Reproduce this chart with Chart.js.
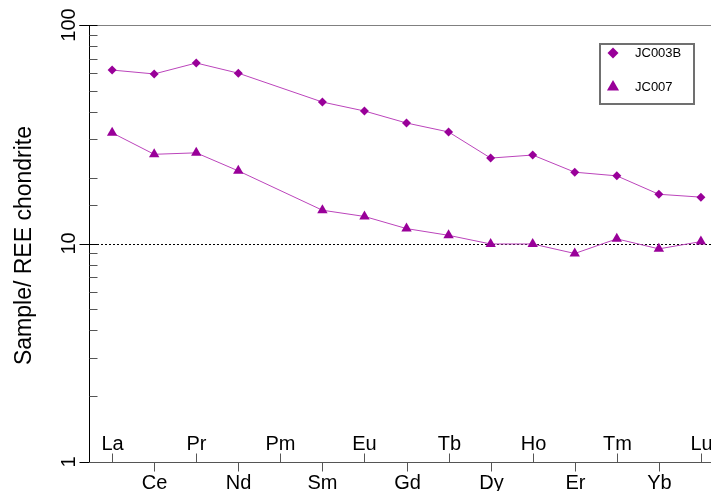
<!DOCTYPE html>
<html>
<head>
<meta charset="utf-8">
<title>REE chondrite plot</title>
<script src="https://cdn.jsdelivr.net/npm/chart.js@4.4.0/dist/chart.umd.min.js"></script>
<style>
  html, body { margin: 0; padding: 0; background: #fff; }
  #wrap { width: 711px; height: 491px; }
</style>
</head>
<body>
<div id="wrap"><canvas id="ree" width="711" height="491"></canvas></div>
<script>
// REE, normalised to chondrite (Pm not analysed)
const elements = ['La', 'Ce', 'Pr', 'Nd', 'Pm', 'Sm', 'Eu', 'Gd', 'Tb', 'Dy', 'Ho', 'Er', 'Tm', 'Yb', 'Lu'];
const jc003b = [62.2, 59.7, 67.0, 60.2, null, 44.4, 40.4, 35.6, 32.4, 24.6, 25.4, 21.2, 20.4, 16.8, 16.3];
const jc007 = [32.1, 25.6, 26.0, 21.5, null, 14.2, 13.3, 11.7, 10.9, 9.95, 9.95, 9.0, 10.5, 9.45, 10.2];
const yTickValues = [1, 10, 100];
const yTickLabels = ['1', '10', '100'];
const refLine = 10;

const FONT = "'Liberation Sans', Arial, sans-serif";
const MARK = '#990099';
const LINE = '#bb44bb';

function toPoints(values) {
    return values.map((v, i) => ({ x: i, y: v }));
}

// Axes, ticks and labels drawn by hand (alternating element labels)
const reeAxes = {
    id: 'reeAxes',
    beforeDatasetsDraw(chart) {
        const { ctx, chartArea: a, scales: { x, y } } = chart;
        ctx.save();

        // top frame line
        ctx.strokeStyle = '#808080';
        ctx.lineWidth = 1;
        ctx.beginPath();
        ctx.moveTo(a.left - 10, Math.round(a.top) + 0.5);
        ctx.lineTo(chart.width, Math.round(a.top) + 0.5);
        ctx.stroke();

        // reference line at 10
        const yr = Math.round(y.getPixelForValue(refLine)) + 0.5;
        ctx.strokeStyle = '#000';
        ctx.setLineDash([2, 2]);
        ctx.beginPath();
        ctx.moveTo(a.left, yr);
        ctx.lineTo(a.right, yr);
        ctx.stroke();
        ctx.setLineDash([]);

        // left axis
        const xl = Math.round(a.left) + 0.5;
        ctx.strokeStyle = '#000';
        ctx.beginPath();
        ctx.moveTo(xl, a.top);
        ctx.lineTo(xl, a.bottom);
        ctx.stroke();

        // y ticks: majors outward + inward, minors inward
        y.ticks.forEach(t => {
            const py = Math.round(y.getPixelForValue(t.value)) + 0.5;
            const major = Math.abs(Math.log10(t.value) - Math.round(Math.log10(t.value))) < 1e-9;
            ctx.strokeStyle = major ? '#000' : '#555';
            ctx.beginPath();
            ctx.moveTo(major ? xl - 10 : xl, py);
            ctx.lineTo(xl + 8, py);
            ctx.stroke();
        });

        // y tick labels (rotated)
        ctx.fillStyle = '#000';
        ctx.font = '20px ' + FONT;
        ctx.textAlign = 'center';
        ctx.textBaseline = 'alphabetic';
        yTickValues.forEach((v, i) => {
            ctx.save();
            ctx.translate(a.left - 14, y.getPixelForValue(v));
            ctx.rotate(-Math.PI / 2);
            ctx.fillText(yTickLabels[i], 0, 0);
            ctx.restore();
        });

        // y title
        ctx.save();
        ctx.font = '23px ' + FONT;
        ctx.translate(31, (a.top + a.bottom) / 2 + 2);
        ctx.rotate(-Math.PI / 2);
        ctx.fillText('Sample/ REE chondrite', 0, 0);
        ctx.restore();

        // bottom axis
        const yb = Math.round(a.bottom) + 0.5;
        ctx.strokeStyle = '#555';
        ctx.beginPath();
        ctx.moveTo(a.left, yb);
        ctx.lineTo(a.right, yb);
        ctx.stroke();

        // element ticks and labels, alternating above / below
        ctx.font = '20px ' + FONT;
        elements.forEach((el, i) => {
            const px = Math.round(x.getPixelForValue(i)) + 0.5;
            const up = i % 2 === 0;
            ctx.beginPath();
            ctx.moveTo(px, yb);
            ctx.lineTo(px, up ? yb - 9 : yb + 9);
            ctx.stroke();
            ctx.fillText(el, px, up ? yb - 13 : yb + 26);
        });

        ctx.restore();
    },
    afterDraw(chart) {
        const { ctx } = chart;
        ctx.save();
        // legend box
        ctx.strokeStyle = '#707070';
        ctx.lineWidth = 2;
        ctx.strokeRect(600, 44, 94, 60);
        ctx.fillStyle = MARK;
        Chart.helpers.drawPoint(ctx, { pointStyle: 'rectRot', radius: 5.5, rotation: 0 }, 613, 53);
        Chart.helpers.drawPoint(ctx, { pointStyle: 'triangle', radius: 7, rotation: 0 }, 613, 87);
        ctx.fillStyle = '#000';
        ctx.font = '13px ' + FONT;
        ctx.textAlign = 'left';
        ctx.textBaseline = 'middle';
        ctx.fillText('JC003B', 635, 53);
        ctx.fillText('JC007', 635, 87);
        ctx.restore();
    }
};

const ctx = document.getElementById('ree');
new Chart(ctx, {
    type: 'line',
    data: {
        datasets: [
            {
                label: 'JC003B',
                data: toPoints(jc003b),
                borderColor: LINE,
                backgroundColor: MARK,
                borderWidth: 1,
                pointStyle: 'rectRot',
                pointRadius: 4.5,
                pointBorderWidth: 0,
                spanGaps: true
            },
            {
                label: 'JC007',
                data: toPoints(jc007),
                borderColor: LINE,
                backgroundColor: MARK,
                borderWidth: 1,
                pointStyle: 'triangle',
                pointRadius: 6,
                pointBorderWidth: 0,
                spanGaps: true
            }
        ]
    },
    options: {
        responsive: false,
        animation: false,
        layout: { autoPadding: false, padding: { left: 89, top: 25, right: 0, bottom: 29 } },
        scales: {
            x: { type: 'linear', min: -0.55, max: 14.24, display: false },
            y: { type: 'logarithmic', min: 1, max: 100, display: false }
        },
        plugins: {
            legend: { display: false },
            tooltip: { enabled: false }
        }
    },
    plugins: [reeAxes]
});
</script>
</body>
</html>
